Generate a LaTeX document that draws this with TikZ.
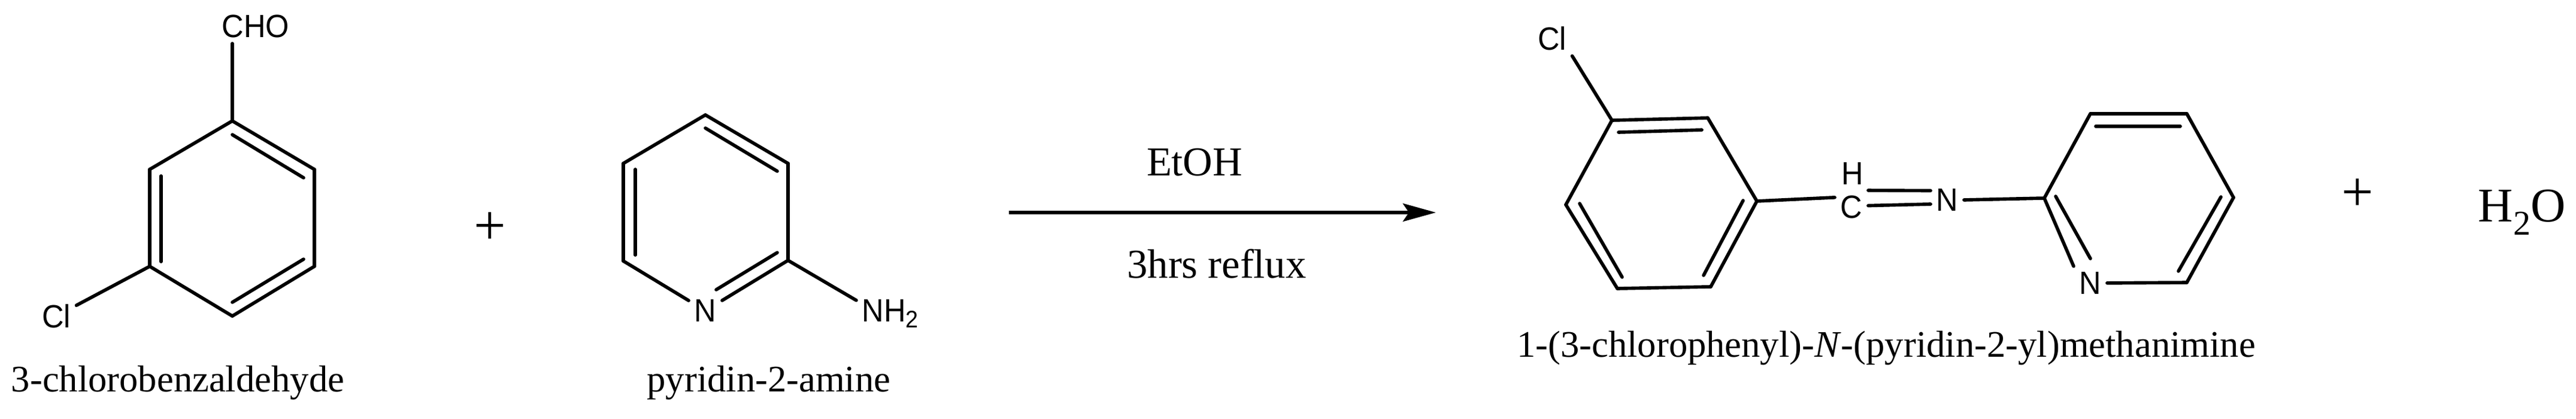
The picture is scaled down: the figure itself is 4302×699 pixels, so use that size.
\documentclass[tikz,border=0pt]{standalone}
\usepackage{fontspec}
\setmainfont{Liberation Serif}
\newfontfamily\atomfont[FakeStretch=.94]{Liberation Sans}
\usetikzlibrary{arrows.meta}
\newcommand{\lowtwo}[2]{\raisebox{-#2}{\fontsize{#1}{#1}\selectfont 2}}

\begin{document}
\begin{tikzpicture}[x=.01cm,y=-.01cm,
 bond/.style={line width=1.6pt,line cap=round},
 atom/.style={font=\atomfont\fontsize{15.3}{17}\selectfont,inner sep=.09cm},
 name label/.style={font=\fontsize{17.8}{20}\selectfont,anchor=base,inner sep=0pt},
 cond label/.style={font=\fontsize{19.5}{22}\selectfont,anchor=base,inner sep=0pt},
 plus sign/.style={font=\fontsize{27}{30}\selectfont,inner sep=0pt}]
 \useasboundingbox (0,0) rectangle (4302,699);

  % benzaldehyde
  \foreach \n/\x/\y in {a1/388/202, a2/525/283, a3/525/445, a4/388/528, a5/250/445, a6/250/283,
    a7/388/225, a8/507/297, a9/507/433, a10/388/505, a11/269/437, a12/269/294} {
   \coordinate (\n) at (\x,\y);}
  \node[atom] (cho) at (427,44) {CHO};
  \node[atom] (cla) at (94,528) {Cl};
  \foreach \s/\t in {a1/a2, a2/a3, a3/a4, a4/a5, a5/a6, a6/a1, a7/a8, a9/a10, a11/a12, a5/cla} {
   \draw[bond] (\s) -- (\t);}
  \draw[bond] (a1) -- (a1 |- cho.south);
  \node[name label] (namea) at (297,654) {3-chlorobenzaldehyde};

  \node[plus sign] (plusa) at (818,382) {+};

  % aminopyridine
  \foreach \n/\x/\y in {b1/1178/192, b2/1316/273, b3/1316/435, b4/1041/436, b5/1041/273,
    b6/1178/214, b7/1298/286, b8/1298/422, b9/1196/484, b10/1061/426, b11/1061/283} {
   \coordinate (\n) at (\x,\y);}
  \node[atom] (nb) at (1178,519) {N};
  \node[atom,anchor=base west] (nh) at (1430,537) {NH\lowtwo{11.4}{.1cm}};
  \foreach \s/\t in {b1/b2, b2/b3, b3/nb, nb/b4, b4/b5, b5/b1, b6/b7, b8/b9, b10/b11} {
   \draw[bond] (\s) -- (\t);}
  \draw[bond] (b3) -- (nh.159);
  \node[name label] (nameb) at (1284,654) {pyridin-2-amine};

  % reaction arrow
  \coordinate (start) at (1685,355);
  \coordinate (end) at (2398,355);
  \draw[line width=1.7pt,-{Stealth[length=.55cm,width=.3cm,inset=.1cm]}] (start) -- (end);
  \node[cond label] (solvent) at (1995,293) {EtOH};
  \node[cond label] (time) at (2032,464) {3hrs reflux};

  % imine
  \foreach \n/\x/\y in {c1/2692/201, c2/2852/197, c3/2934/336, c4/2857/479, c5/2701/482, c6/2615/342,
    c7/2703/221, c8/2842/217, c9/2911/335, c10/2845/460, c11/2709/463, c12/2638/340,
    d1/3414/331, d2/3491/190, d3/3652/190, d4/3730/330, d5/3652/472,
    d6/3500/211, d7/3641/211, d8/3709/329, d9/3638/453, d10/3491/432, d11/3433/328} {
   \coordinate (\n) at (\x,\y);}
  \node[atom] (clc) at (2592,64) {Cl};
  \node[atom] (hc) at (3094,290) {H};
  \node[atom] (cc) at (3092,346) {C};
  \node[atom] (nc) at (3252,334) {N};
  \node[atom] (nd) at (3491,473) {N};
  \foreach \s/\t in {c1/c2, c2/c3, c3/c4, c4/c5, c5/c6, c6/c1, c7/c8, c9/c10, c11/c12,
    d1/d2, d2/d3, d3/d4, d4/d5, d5/nd, d6/d7, d8/d9, d10/d11} {
   \draw[bond] (\s) -- (\t);}
  \draw[bond] (c1) -- (clc.south east);
  \draw[bond] (c3) -- (cc.150);
  \draw[bond] (cc.45) -- (nc.151);
  \draw[bond] (cc.5) -- (nc.194);
  \draw[bond] (nc.east) -- (d1);
  \draw[bond] (d1) -- (nd.north west);
  \node[name label] (namec) at (3150,596) {1-(3-chlorophenyl)-\textit{N}-(pyridin-2-yl)methanimine};

  \node[plus sign] (plusb) at (3937,326) {+};
  \node[anchor=base west,inner sep=0pt,font=\fontsize{23}{26}\selectfont] (water) at (4138,370) {H\lowtwo{16.5}{.22cm}O};
\end{tikzpicture}
\end{document}
